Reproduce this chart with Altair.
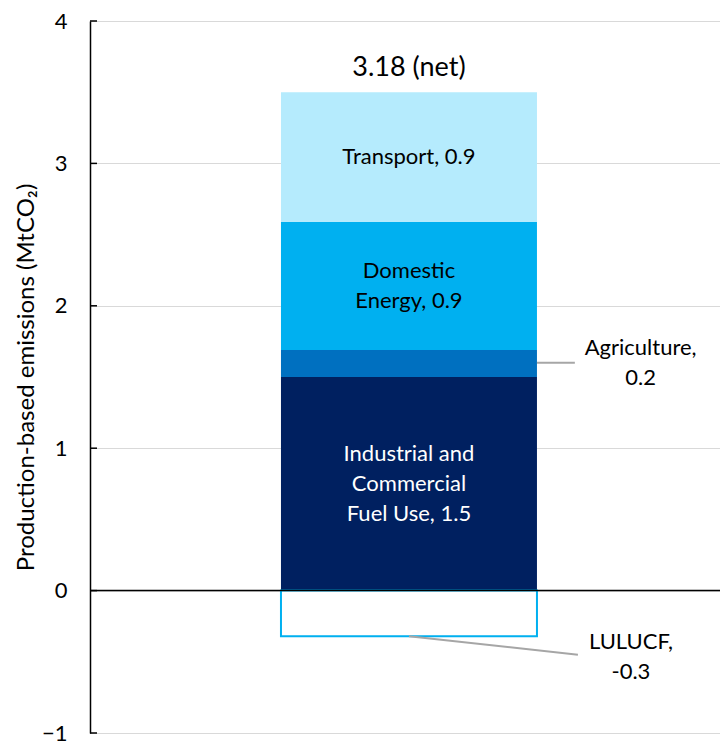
import altair as alt
import pandas as pd

# ---- data ----
categories = ["Industrial and Commercial Fuel Use", "Agriculture", "Domestic Energy", "Transport", "LULUCF"]
values = [1.5, 0.19, 0.9, 0.91, -0.32]
bar_labels = ["Industrial and\nCommercial\nFuel Use, 1.5", "", "Domestic\nEnergy, 0.9", "Transport, 0.9", ""]
colors = ["#002060", "#0070C0", "#00B0F0", "#B5EBFD", "#FFFFFF"]
label_colors = ["#FFFFFF", "#FFFFFF", "#000000", "#000000", "#000000"]
net_label = "3.18 (net)"
y_ticks = [-1, 0, 1, 2, 3, 4]

# callout annotations (outside the bar)
callout_text = ["Agriculture,\n0.2", "LULUCF,\n-0.3"]
callout_x = [0.905, 0.867]
callout_y = [1.6, -0.465]
leader_x = [0.5, 0.0]
leader_y = [1.6, -0.32]
leader_x2 = [0.648, 0.66]
leader_y2 = [1.6, -0.451]

FONT = "Lato"
FS = 22
LH = 30

# ---- build tables ----
rows = []
cum = 0.0
for c, v, l in zip(categories, values, bar_labels):
    if v >= 0:
        start, end = cum, cum + v
        cum = end
    else:
        start, end = 0.0, v
    rows.append(dict(cat=c, start=start, end=end, mid=(start + end) / 2,
                     label=l, nlines=(l.count("\n") + 1) if l else 0,
                     x0=-0.5, x1=0.5, xc=0.0))
df = pd.DataFrame(rows)
total_pos = cum

net_df = pd.DataFrame([dict(x=0.0, y=total_pos, text=net_label)])
call_df = pd.DataFrame(dict(x=callout_x, y=callout_y, text=callout_text))
lead_df = pd.DataFrame(dict(x=leader_x, y=leader_y, x2=leader_x2, y2=leader_y2))
tick_df = pd.DataFrame(dict(v=y_ticks))

xs = alt.Scale(domain=[-1.246, 1.215], nice=False, zero=False)
ys = alt.Scale(domain=[-1, 4], nice=False, zero=False)

color_scale = alt.Scale(domain=categories, range=colors)
label_scale = alt.Scale(domain=categories, range=label_colors)

yaxis = alt.Axis(
    values=y_ticks, ticks=False, grid=True, gridColor="#D9D9D9", gridWidth=1,
    domainColor="#000000", domainWidth=1.5, labelFont=FONT, labelFontSize=FS,
    labelColor="#000000", labelPadding=23, title="Production-based emissions (MtCO₂)",
    titleFont=FONT, titleFontSize=24, titleFontWeight="normal", titleColor="#000000",
    titlePadding=3, format="d",
)

grid_layer = alt.Chart(tick_df).mark_rule(opacity=0).encode(
    y=alt.Y("v:Q", scale=ys, axis=yaxis)
)

tick_layer = alt.Chart(tick_df).mark_rule(color="#000000", strokeWidth=1.5).encode(
    y=alt.Y("v:Q", scale=ys), x=alt.value(0), x2=alt.value(7)
)

pos_bars = alt.Chart(df).transform_filter("datum.end > 0").mark_rect().encode(
    x=alt.X("x0:Q", scale=xs, axis=None), x2="x1:Q",
    y=alt.Y("start:Q", scale=ys), y2="end:Q",
    color=alt.Color("cat:N", scale=color_scale, legend=None),
)

neg_bars = alt.Chart(df).transform_filter("datum.end < 0").mark_rect(
    fill="#FFFFFF", stroke="#00B0F0", strokeWidth=2
).encode(
    x=alt.X("x0:Q", scale=xs, axis=None), x2="x1:Q",
    y=alt.Y("start:Q", scale=ys), y2="end:Q",
)

zero_rule = alt.Chart(tick_df).transform_filter("datum.v == 0").mark_rule(
    color="#000000", strokeWidth=1.5
).encode(y=alt.Y("v:Q", scale=ys), x=alt.value(0), x2=alt.value(630))


def bar_text_layer(n):
    return alt.Chart(df).transform_filter(f"datum.nlines == {n}").mark_text(
        font=FONT, fontSize=FS, lineBreak="\n", lineHeight=LH, baseline="middle",
        align="center", dy=-(n - 1) * LH / 2
    ).encode(
        x=alt.X("xc:Q", scale=xs), y=alt.Y("mid:Q", scale=ys), text="label:N",
        color=alt.Color("cat:N", scale=label_scale, legend=None),
    )


net_text = alt.Chart(net_df).mark_text(
    font=FONT, fontSize=27, baseline="alphabetic", align="center", dy=-16, color="#000000"
).encode(x=alt.X("x:Q", scale=xs), y=alt.Y("y:Q", scale=ys), text="text:N")

leaders = alt.Chart(lead_df).mark_rule(color="#A6A6A6", strokeWidth=2).encode(
    x=alt.X("x:Q", scale=xs), y=alt.Y("y:Q", scale=ys), x2="x2:Q", y2="y2:Q"
)

call_text = alt.Chart(call_df).mark_text(
    font=FONT, fontSize=FS, lineBreak="\n", lineHeight=LH, baseline="middle",
    align="center", color="#000000", dy=-LH / 2
).encode(x=alt.X("x:Q", scale=xs), y=alt.Y("y:Q", scale=ys), text="text:N")

chart = alt.layer(
    grid_layer, pos_bars, neg_bars, zero_rule, tick_layer, leaders,
    bar_text_layer(1), bar_text_layer(2), bar_text_layer(3), net_text, call_text
).resolve_scale(color="independent").properties(
    width=630, height=712,
    autosize=alt.AutoSizeParams(type="none"),
    padding={"left": 82, "top": 13, "right": 0, "bottom": 14},
).configure_view(stroke=None)

chart.save("out.html", embed_options={"renderer": "svg", "actions": False})
